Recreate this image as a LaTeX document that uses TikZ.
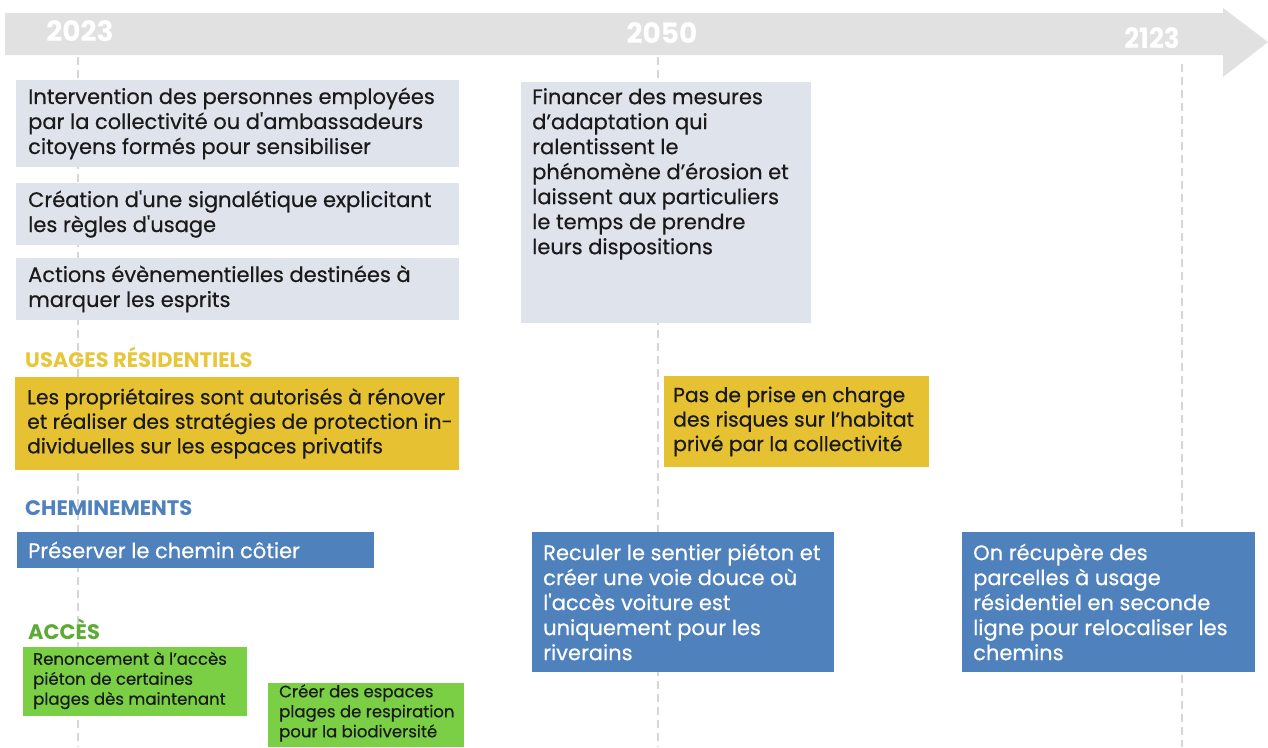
\documentclass[tikz,border=0pt]{standalone}
\usepackage{fontspec}
\setmainfont{Poppins}
\newfontfamily\medfont[FakeBold=0.5]{Poppins}
\definecolor{band}{HTML}{E1E1E1}
\definecolor{grayb}{HTML}{DFE3EC}
\definecolor{yel}{HTML}{E6C232}
\definecolor{yellbl}{HTML}{E8C63A}
\definecolor{blu}{HTML}{4F81BD}
\definecolor{grn}{HTML}{7ACF45}
\definecolor{grnlbl}{HTML}{5DAA35}
\definecolor{dashc}{HTML}{D6D6D6}
\definecolor{ink}{HTML}{1A1A1A}
\begin{document}
\begin{tikzpicture}[x=1pt,y=-1pt,
  box/.style={anchor=north west, inner sep=0pt, outer sep=0pt, draw=none},
  txt/.style={inner sep=0pt, align=left, text=ink, font=\medfont\fontsize{21}{25}\selectfont},
  ytxt/.style={txt, font=\medfont\fontsize{20.3}{24.5}\selectfont},
  wtxt/.style={txt, text=white},
  smtxt/.style={inner sep=0pt, align=left, text=ink, font=\medfont\fontsize{16.5}{20}\selectfont},
  cat/.style={anchor=west, inner sep=0pt, font=\bfseries\fontsize{21}{22}\selectfont},
  year/.style={inner sep=0pt, text=white, font=\bfseries\fontsize{28}{30}\selectfont},
  dashline/.style={draw=dashc, line width=1.2pt, dash pattern=on 8pt off 5pt}]
\useasboundingbox (0,0) rectangle (1268,747);
% timeline arrow
\fill[band] (5,13) -- (1223,13) -- (1223,8) -- (1268,42) -- (1223,77) -- (1223,55) -- (5,55) -- cycle;
\node[year] (y2023) at (80,31) {2023};
\node[year] (y2050) at (662,33) {2050};
\node[year] (y2123) at (1152,38) {\scalebox{0.93}[1]{2123}};
% dashed year lines
\coordinate (d1t) at (78,57);  \coordinate (d1b) at (78,747);
\coordinate (d2t) at (658,57); \coordinate (d2b) at (658,747);
\coordinate (d3t) at (1182,64); \coordinate (d3b) at (1182,747);
\draw[dashline] (d1t) -- (d1b);
\draw[dashline] (d2t) -- (d2b);
\draw[dashline] (d3t) -- (d3b);
% gray boxes
\node[box, fill=grayb, minimum width=443pt, minimum height=87pt] (g1) at (16,80) {};
\node[txt, anchor=west] (g1t) at ([xshift=12pt]g1.west) {Intervention des personnes employées\\par la collectivité ou d'ambassadeurs\\citoyens formés pour sensibiliser};
\node[box, fill=grayb, minimum width=443pt, minimum height=62pt] (g2) at (16,183) {};
\node[txt, anchor=west] (g2t) at ([xshift=12pt]g2.west) {Création d'une signalétique explicitant\\les règles d'usage};
\node[box, fill=grayb, minimum width=443pt, minimum height=62pt] (g3) at (16,258) {};
\node[txt, anchor=west] (g3t) at ([xshift=12pt]g3.west) {Actions évènementielles destinées à\\marquer les esprits};
\node[box, fill=grayb, minimum width=290pt, minimum height=241pt] (fin) at (521,82) {};
\node[txt, anchor=north west] (fint) at ([xshift=11pt,yshift=-6pt]fin.north west) {Financer des mesures\\d’adaptation qui\\ralentissent le\\phénomène d’érosion et\\laissent aux particuliers\\le temps de prendre\\leurs dispositions};
% usages residentiels
\node[cat, text=yellbl] (cu) at (25,357) {USAGES RÉSIDENTIELS};
\node[box, fill=yel, minimum width=444pt, minimum height=93pt] (y1) at (15,377) {};
\node[ytxt, anchor=west] (y1t) at ([xshift=12pt]y1.west) {Les propriétaires sont autorisés à rénover\\et réaliser des stratégies de protection in-\\dividuelles sur les espaces privatifs};
\node[box, fill=yel, minimum width=265pt, minimum height=91pt] (y2) at (664,376) {};
\node[ytxt, anchor=west] (y2t) at ([xshift=9pt]y2.west) {Pas de prise en charge\\des risques sur l’habitat\\privé par la collectivité};
% cheminements
\node[cat, text=blu] (cc) at (25,508) {CHEMINEMENTS};
\node[box, fill=blu, minimum width=357pt, minimum height=36pt] (b1) at (17,532) {};
\node[wtxt, anchor=west] (b1t) at ([xshift=11pt]b1.west) {Préserver le chemin côtier};
\node[box, fill=blu, minimum width=302pt, minimum height=140pt] (b2) at (532,532) {};
\node[wtxt, anchor=west] (b2t) at ([xshift=11pt]b2.west) {Reculer le sentier piéton et\\créer une voie douce où\\l'accès voiture est\\uniquement pour les\\riverains};
\node[box, fill=blu, minimum width=293pt, minimum height=140pt] (b3) at (962,532) {};
\node[wtxt, anchor=west] (b3t) at ([xshift=11pt]b3.west) {On récupère des\\parcelles à usage\\résidentiel en seconde\\ligne pour relocaliser les\\chemins};
% acces
\node[cat, text=grnlbl] (ca) at (28,629) {ACCÈS};
\node[box, fill=grn, minimum width=224pt, minimum height=69pt] (gr1) at (23,647) {};
\node[smtxt, anchor=west] (gr1t) at ([xshift=10pt,yshift=1pt]gr1.west) {Renoncement à l’accès\\piéton de certaines\\plages dès maintenant};
\node[box, fill=grn, minimum width=196pt, minimum height=64pt] (gr2) at (268,683) {};
\node[smtxt, anchor=west] (gr2t) at ([xshift=11pt,yshift=2pt]gr2.west) {Créer des espaces\\plages de respiration\\pour la biodiversité};
\end{tikzpicture}
\end{document}
